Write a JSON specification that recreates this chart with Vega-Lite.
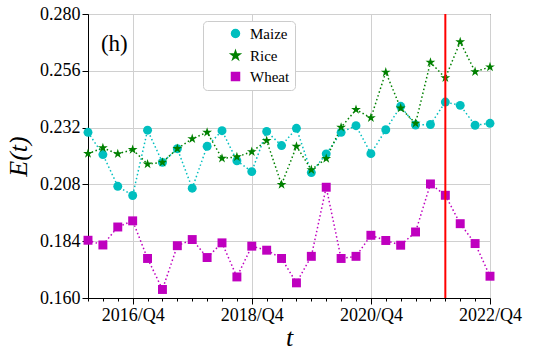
{
  "$schema": "https://vega.github.io/schema/vega-lite/v6.json",
  "width": 402,
  "height": 284,
  "autosize": {"type": "none"},
  "padding": {"left": 88, "top": 14, "right": 43, "bottom": 60},
  "background": "white",
  "config": {
    "view": {"stroke": "black", "strokeWidth": 1},
    "font": "Liberation Serif",
    "axis": {"domainColor": "black", "tickColor": "black", "labelColor": "black", "titleColor": "black", "gridColor": "#d0d0d0", "gridWidth": 1, "labelFont": "Liberation Serif", "titleFont": "Liberation Serif", "titleFontWeight": "normal"},
    "legend": {"labelFont": "Liberation Serif"}
  },
  "layer": [
    {
      "data": {
        "values": [
          {"q": "2016/Q1", "Maize": 0.2300, "Rice": 0.2210, "Wheat": 0.1844},
          {"q": "2016/Q2", "Maize": 0.2206, "Rice": 0.2234, "Wheat": 0.1824},
          {"q": "2016/Q3", "Maize": 0.2072, "Rice": 0.2209, "Wheat": 0.1900},
          {"q": "2016/Q4", "Maize": 0.2033, "Rice": 0.2227, "Wheat": 0.1926},
          {"q": "2017/Q1", "Maize": 0.2309, "Rice": 0.2166, "Wheat": 0.1767},
          {"q": "2017/Q2", "Maize": 0.2173, "Rice": 0.2173, "Wheat": 0.1636},
          {"q": "2017/Q3", "Maize": 0.2231, "Rice": 0.2231, "Wheat": 0.1821},
          {"q": "2017/Q4", "Maize": 0.2064, "Rice": 0.2273, "Wheat": 0.1847},
          {"q": "2018/Q1", "Maize": 0.2241, "Rice": 0.2300, "Wheat": 0.1771},
          {"q": "2018/Q2", "Maize": 0.2307, "Rice": 0.2190, "Wheat": 0.1833},
          {"q": "2018/Q3", "Maize": 0.2180, "Rice": 0.2196, "Wheat": 0.1689},
          {"q": "2018/Q4", "Maize": 0.2134, "Rice": 0.2218, "Wheat": 0.1819},
          {"q": "2019/Q1", "Maize": 0.2304, "Rice": 0.2265, "Wheat": 0.1802},
          {"q": "2019/Q2", "Maize": 0.2244, "Rice": 0.2079, "Wheat": 0.1767},
          {"q": "2019/Q3", "Maize": 0.2317, "Rice": 0.2241, "Wheat": 0.1664},
          {"q": "2019/Q4", "Maize": 0.2130, "Rice": 0.2142, "Wheat": 0.1776},
          {"q": "2020/Q1", "Maize": 0.2209, "Rice": 0.2189, "Wheat": 0.2068},
          {"q": "2020/Q2", "Maize": 0.2300, "Rice": 0.2321, "Wheat": 0.1767},
          {"q": "2020/Q3", "Maize": 0.2328, "Rice": 0.2396, "Wheat": 0.1776},
          {"q": "2020/Q4", "Maize": 0.2210, "Rice": 0.2361, "Wheat": 0.1865},
          {"q": "2021/Q1", "Maize": 0.2311, "Rice": 0.2554, "Wheat": 0.1843},
          {"q": "2021/Q2", "Maize": 0.2410, "Rice": 0.2402, "Wheat": 0.1823},
          {"q": "2021/Q3", "Maize": 0.2331, "Rice": 0.2338, "Wheat": 0.1879},
          {"q": "2021/Q4", "Maize": 0.2333, "Rice": 0.2596, "Wheat": 0.2082},
          {"q": "2022/Q1", "Maize": 0.2428, "Rice": 0.2530, "Wheat": 0.2034},
          {"q": "2022/Q2", "Maize": 0.2414, "Rice": 0.2682, "Wheat": 0.1914},
          {"q": "2022/Q3", "Maize": 0.2330, "Rice": 0.2556, "Wheat": 0.1830},
          {"q": "2022/Q4", "Maize": 0.2338, "Rice": 0.2576, "Wheat": 0.1692}
        ]
      },
      "transform": [{"fold": ["Maize", "Rice", "Wheat"], "as": ["crop", "E"]}],
      "encoding": {
        "x": {
          "field": "q", "type": "ordinal",
          "scale": {"type": "point", "padding": 0},
          "axis": {
            "title": "t", "titleFontStyle": "italic", "titleFontSize": 26, "titlePadding": 0,
            "labelFontSize": 18, "labelAngle": 0, "labelOverlap": false, "labelPadding": 2,
            "labelExpr": "indexof(['2016/Q4','2018/Q4','2020/Q4','2022/Q4'], datum.value) >= 0 ? datum.value : ''",
            "tickSize": {"condition": {"test": "indexof(['2016/Q4','2018/Q4','2020/Q4','2022/Q4'], datum.value) >= 0", "value": 6}, "value": 3},
            "grid": true,
            "gridOpacity": {"condition": {"test": "indexof(['2016/Q4','2018/Q4','2020/Q4','2022/Q4'], datum.value) >= 0", "value": 1}, "value": 0}
          }
        },
        "y": {
          "field": "E", "type": "quantitative",
          "scale": {"domain": [0.16, 0.28], "nice": false, "zero": false},
          "axis": {
            "title": "E(t)", "titleFontStyle": "italic", "titleFontSize": 26, "titlePadding": 8,
            "values": [0.16, 0.184, 0.208, 0.232, 0.256, 0.28], "format": ".3f",
            "labelFontSize": 18, "tickSize": 6, "labelPadding": 2, "grid": true
          }
        },
        "color": {
          "field": "crop", "type": "nominal",
          "scale": {"domain": ["Maize", "Rice", "Wheat"], "range": ["#00bfbf", "#008000", "#bf00bf"]},
          "legend": {
            "title": null, "orient": "none", "legendX": 115, "legendY": 7,
            "padding": 5, "strokeColor": "#cccccc", "fillColor": "white", "cornerRadius": 4,
            "labelFontSize": 15, "symbolSize": 64, "symbolOffset": 20, "labelOffset": 7, "rowPadding": 5
          }
        }
      },
      "layer": [
        {
          "mark": {"type": "line", "strokeDash": [1.5, 2.5], "strokeWidth": 1.5}
        },
        {
          "mark": {"type": "point", "filled": true, "opacity": 1, "size": 80},
          "encoding": {
            "shape": {
              "field": "crop", "type": "nominal",
              "scale": {"domain": ["Maize", "Rice", "Wheat"], "range": ["circle", "M0,-1.15L0.259,-0.355L1.094,-0.355L0.417,0.136L0.676,0.93L0,0.439L-0.676,0.93L-0.417,0.136L-1.094,-0.355L-0.259,-0.355Z", "square"]},
              "legend": null
            }
          }
        }
      ]
    },
    {
      "data": {"values": [{"q": "2022/Q1"}]},
      "mark": {"type": "rule", "color": "#ff0000", "strokeWidth": 2},
      "encoding": {"x": {"field": "q", "type": "ordinal"}}
    },
    {
      "data": {"values": [{"label": "(h)"}]},
      "mark": {"type": "text", "align": "left", "baseline": "middle", "fontSize": 23, "font": "Liberation Serif", "dx": -2},
      "encoding": {
        "x": {"datum": "2016/Q2", "type": "ordinal"},
        "y": {"datum": 0.2675, "type": "quantitative"},
        "text": {"field": "label"}
      }
    }
  ]
}
